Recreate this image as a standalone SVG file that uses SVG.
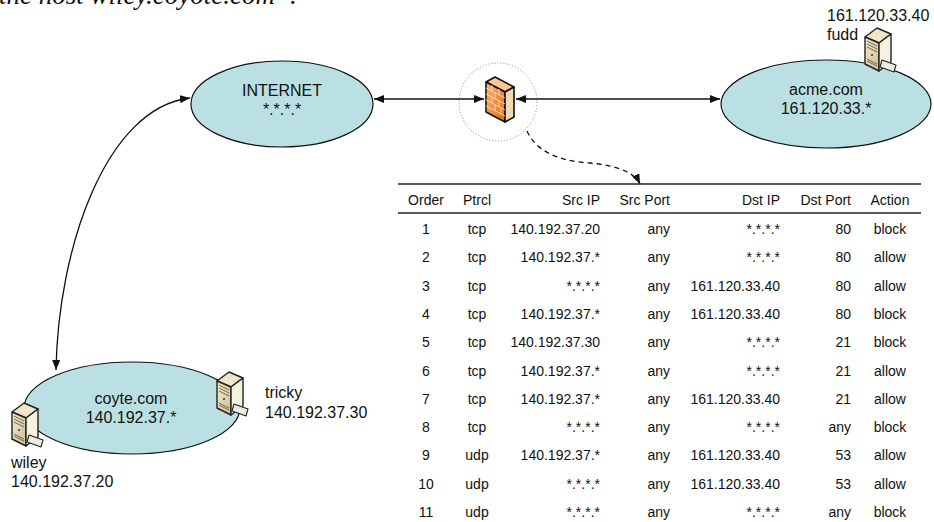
<svg xmlns="http://www.w3.org/2000/svg" width="934" height="522" viewBox="0 0 934 522">
<style>
text{font-family:"Liberation Sans",Arial,sans-serif;fill:#111}
.lbl{font-size:16px}
.t{font-size:14px}
.c{text-anchor:middle}
.r{text-anchor:end}
.ell{fill:#bbe0e3;stroke:#111;stroke-width:1.2}
.conn{fill:none;stroke:#111;stroke-width:1.3}
.dash{fill:none;stroke:#111;stroke-width:1.3;stroke-dasharray:5,4}
.rule{stroke:#222;stroke-width:1.5}
</style>
<defs>
<marker id="ah" viewBox="0 0 10 8" refX="10" refY="4" markerWidth="10" markerHeight="8" markerUnits="userSpaceOnUse" orient="auto-start-reverse">
<path d="M0,0 L10,4 L0,8 z" fill="#111"/>
</marker>
<linearGradient id="brick" x1="0" y1="0" x2="1" y2="1">
<stop offset="0" stop-color="#fbb56e"/>
<stop offset="1" stop-color="#e86a12"/>
</linearGradient>
<linearGradient id="srvL" x1="0" y1="0" x2="1" y2="1">
<stop offset="0" stop-color="#f4ecd4"/>
<stop offset="1" stop-color="#cbbb91"/>
</linearGradient>
<g id="server">
<polygon points="7,18 19,9 33,15 21,24" fill="#efe5c9" stroke="#222" stroke-width="1.4" stroke-linejoin="round"/>
<polygon points="7,18 21,24 21,52 7,45" fill="url(#srvL)" stroke="#222" stroke-width="1.4" stroke-linejoin="round"/>
<polygon points="21,24 33,15 33,43 21,52" fill="#f7f1e0" stroke="#222" stroke-width="1.4" stroke-linejoin="round"/>
<path d="M9,22 L19,27 M9,25 L19,30 M9,28 L19,33" stroke="#6b5a3a" stroke-width="0.9"/>
<circle cx="14" cy="36" r="1" fill="#333"/>
<path d="M9,40 L19,45 M9,42 L19,47" stroke="#6b5a3a" stroke-width="0.9"/>
<polygon points="24,41 38,46 36,53 22,48" fill="#ecebe4" stroke="#222" stroke-width="1.1" stroke-linejoin="round"/>
</g>
</defs>

<text x="-1" y="4" style="font-family:'Liberation Serif','Times New Roman',serif;font-style:italic;font-size:27px">the host wiley.coyote.com”.</text>

<g id="connectors">
<line class="conn" x1="374" y1="99" x2="484" y2="99" marker-start="url(#ah)" marker-end="url(#ah)"/>
<line class="conn" x1="516" y1="99" x2="720" y2="99" marker-start="url(#ah)" marker-end="url(#ah)"/>
<path class="conn" d="M190,98 C105,108 58,250 56,370" marker-start="url(#ah)" marker-end="url(#ah)"/>
<path class="dash" d="M527,131 Q540,160 590,163 Q632,167 640,184" marker-end="url(#ah)"/>
</g>

<g id="internet">
<ellipse class="ell" cx="282" cy="104" rx="91" ry="43"/>
<text class="lbl c" x="282" y="96">INTERNET</text>
<text class="lbl c" x="282" y="115">*.*.*.*</text>
</g>

<g id="firewall">
<circle cx="498" cy="102" r="39" fill="none" stroke="#8a8a8a" stroke-width="1" stroke-dasharray="1,2"/>
<polygon points="486,82 495,77 514,87 505,92" fill="#fcc791" stroke="#111" stroke-width="1.6" stroke-linejoin="round"/>
<polygon points="486,82 505,92 505,122 486,112" fill="url(#brick)" stroke="#111" stroke-width="1.6" stroke-linejoin="round"/>
<polygon points="505,92 514,87 514,117 505,122" fill="#f6d7b4" stroke="#111" stroke-width="1.6" stroke-linejoin="round"/>
<path d="M486,88 L505,98 M486,94 L505,104 M486,100 L505,110 M486,106 L505,116 M492,85 L492,91 M499,89 L499,95 M492,97 L492,103 M499,101 L499,107 M495,93 L495,99 M495,105 L495,111 M501,108 L501,114" stroke="#fde0c0" stroke-width="0.9" fill="none"/>
</g>

<g id="acme">
<ellipse class="ell" cx="826" cy="104" rx="105" ry="44"/>
<text class="lbl c" x="826" y="95">acme.com</text>
<text class="lbl c" x="826" y="114">161.120.33.*</text>
</g>

<g id="fudd">
<use href="#server" transform="translate(858,19)"/>
<text class="lbl" x="827" y="21">161.120.33.40</text>
<text class="lbl" x="827" y="40">fudd</text>
</g>

<g id="coyte">
<ellipse class="ell" cx="132" cy="408" rx="108" ry="46"/>
<text class="lbl c" x="131" y="404">coyte.com</text>
<text class="lbl c" x="131" y="423">140.192.37.*</text>
</g>

<g id="tricky">
<use href="#server" transform="translate(210,363)"/>
<text class="lbl" x="265" y="398">tricky</text>
<text class="lbl" x="265" y="418">140.192.37.30</text>
</g>

<g id="wiley">
<use href="#server" transform="translate(5,394)"/>
<text class="lbl" x="11" y="468">wiley</text>
<text class="lbl" x="11" y="487">140.192.37.20</text>
</g>

<g id="rules-table">
<line class="rule" x1="398" y1="184" x2="921" y2="184"/>
<line class="rule" x1="398" y1="213" x2="921" y2="213"/>
<g>
<text class="t c" x="426" y="205">Order</text>
<text class="t c" x="477" y="205">Ptrcl</text>
<text class="t r" x="600" y="205">Src IP</text>
<text class="t r" x="670" y="205">Src Port</text>
<text class="t r" x="780" y="205">Dst IP</text>
<text class="t r" x="851" y="205">Dst Port</text>
<text class="t c" x="890" y="205">Action</text>
</g>
<g>
<text class="t c" x="426" y="234">1</text><text class="t c" x="477" y="234">tcp</text><text class="t r" x="600" y="234">140.192.37.20</text><text class="t r" x="670" y="234">any</text><text class="t r" x="780" y="234">*.*.*.*</text><text class="t r" x="851" y="234">80</text><text class="t c" x="890" y="234">block</text>
<text class="t c" x="426" y="262.3">2</text><text class="t c" x="477" y="262.3">tcp</text><text class="t r" x="600" y="262.3">140.192.37.*</text><text class="t r" x="670" y="262.3">any</text><text class="t r" x="780" y="262.3">*.*.*.*</text><text class="t r" x="851" y="262.3">80</text><text class="t c" x="890" y="262.3">allow</text>
<text class="t c" x="426" y="290.6">3</text><text class="t c" x="477" y="290.6">tcp</text><text class="t r" x="600" y="290.6">*.*.*.*</text><text class="t r" x="670" y="290.6">any</text><text class="t r" x="780" y="290.6">161.120.33.40</text><text class="t r" x="851" y="290.6">80</text><text class="t c" x="890" y="290.6">allow</text>
<text class="t c" x="426" y="318.9">4</text><text class="t c" x="477" y="318.9">tcp</text><text class="t r" x="600" y="318.9">140.192.37.*</text><text class="t r" x="670" y="318.9">any</text><text class="t r" x="780" y="318.9">161.120.33.40</text><text class="t r" x="851" y="318.9">80</text><text class="t c" x="890" y="318.9">block</text>
<text class="t c" x="426" y="347.2">5</text><text class="t c" x="477" y="347.2">tcp</text><text class="t r" x="600" y="347.2">140.192.37.30</text><text class="t r" x="670" y="347.2">any</text><text class="t r" x="780" y="347.2">*.*.*.*</text><text class="t r" x="851" y="347.2">21</text><text class="t c" x="890" y="347.2">block</text>
<text class="t c" x="426" y="375.5">6</text><text class="t c" x="477" y="375.5">tcp</text><text class="t r" x="600" y="375.5">140.192.37.*</text><text class="t r" x="670" y="375.5">any</text><text class="t r" x="780" y="375.5">*.*.*.*</text><text class="t r" x="851" y="375.5">21</text><text class="t c" x="890" y="375.5">allow</text>
<text class="t c" x="426" y="403.8">7</text><text class="t c" x="477" y="403.8">tcp</text><text class="t r" x="600" y="403.8">140.192.37.*</text><text class="t r" x="670" y="403.8">any</text><text class="t r" x="780" y="403.8">161.120.33.40</text><text class="t r" x="851" y="403.8">21</text><text class="t c" x="890" y="403.8">allow</text>
<text class="t c" x="426" y="432.1">8</text><text class="t c" x="477" y="432.1">tcp</text><text class="t r" x="600" y="432.1">*.*.*.*</text><text class="t r" x="670" y="432.1">any</text><text class="t r" x="780" y="432.1">*.*.*.*</text><text class="t r" x="851" y="432.1">any</text><text class="t c" x="890" y="432.1">block</text>
<text class="t c" x="426" y="460.4">9</text><text class="t c" x="477" y="460.4">udp</text><text class="t r" x="600" y="460.4">140.192.37.*</text><text class="t r" x="670" y="460.4">any</text><text class="t r" x="780" y="460.4">161.120.33.40</text><text class="t r" x="851" y="460.4">53</text><text class="t c" x="890" y="460.4">allow</text>
<text class="t c" x="426" y="488.7">10</text><text class="t c" x="477" y="488.7">udp</text><text class="t r" x="600" y="488.7">*.*.*.*</text><text class="t r" x="670" y="488.7">any</text><text class="t r" x="780" y="488.7">161.120.33.40</text><text class="t r" x="851" y="488.7">53</text><text class="t c" x="890" y="488.7">allow</text>
<text class="t c" x="426" y="517">11</text><text class="t c" x="477" y="517">udp</text><text class="t r" x="600" y="517">*.*.*.*</text><text class="t r" x="670" y="517">any</text><text class="t r" x="780" y="517">*.*.*.*</text><text class="t r" x="851" y="517">any</text><text class="t c" x="890" y="517">block</text>
</g>
</g>
</svg>
